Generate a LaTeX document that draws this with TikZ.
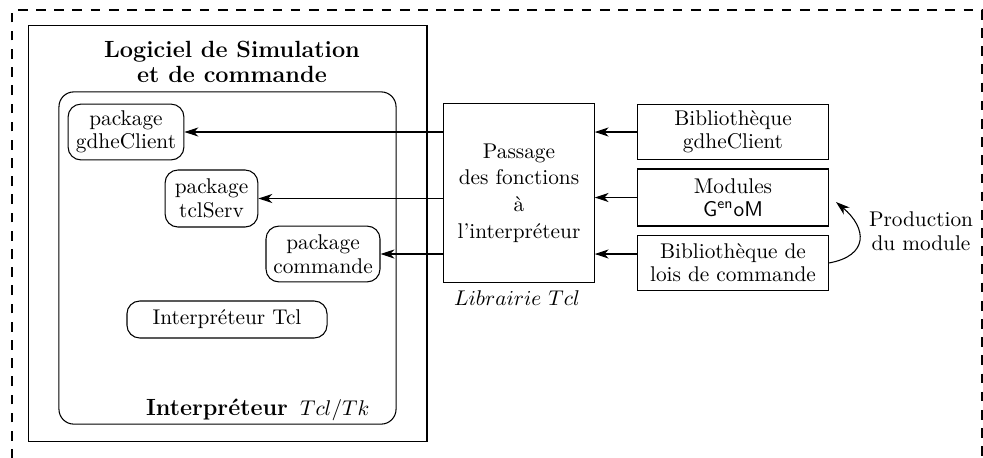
\documentclass[tikz,border=0pt]{standalone}
\usepackage{fontspec}
\usepackage{tikz}
\usetikzlibrary{arrows.meta}
\tikzset{
  pkgbox/.style={draw, rounded corners=6pt, inner sep=0pt, align=center,
    font=\fontsize{10}{11}\selectfont},
  libbox/.style={draw, inner sep=0pt, align=center, minimum width=3.14cm,
    minimum height=0.92cm, font=\fontsize{10}{10.8}\selectfont},
  flow/.style={line width=0.5pt, -{Stealth[length=2.3mm,width=1.5mm,inset=0.7mm]}}
}

\begin{document}
\begin{tikzpicture}[x=0.0165cm, y=0.0165cm, line width=0.5pt]
  \useasboundingbox (0,0) rectangle (983,457);
  % open frame round everything
  \draw[dash pattern=on 1.6mm off 1.4mm] (12,-20) -- (12,447) -- (982,447) -- (982,-20);

  % software block
  \node[draw, minimum width=6.58cm, minimum height=6.85cm] (logiciel) at (227.5,223.5) {};
  \node[align=center, font=\fontsize{11}{11.6}\selectfont\bfseries] (titre) at (232,395)
    {Logiciel de Simulation\\ et de commande};
  \node[draw, rounded corners=7pt, minimum width=5.56cm, minimum height=5.48cm] (interp) at (227.5,199) {};
  \node[anchor=base east] (interplabel) at (377,42)
    {{\fontsize{11}{13}\selectfont\bfseries Interpréteur}\hspace{2mm}$Tcl/Tk$};

  \node[pkgbox, minimum width=1.91cm, minimum height=0.92cm] (pkggdhe) at (126,325) {package\\ gdheClient};
  \node[pkgbox, minimum width=1.53cm, minimum height=0.94cm] (pkgserv) at (211.5,258.5) {package\\ tclServ};
  \node[pkgbox, minimum width=1.88cm, minimum height=0.92cm] (pkgcmd) at (323,203) {package\\ commande};
  \node[pkgbox, minimum width=3.30cm, minimum height=0.61cm] (tclinterp) at (227,137.5) {Interpréteur Tcl};

  % Tcl library
  \node[draw, inner sep=0pt, minimum width=2.48cm, minimum height=2.94cm, align=center,
    font=\fontsize{10}{12.5}\selectfont] (passage) at (519,264)
    {Passage\\ des fonctions\\ à\\ l'interpréteur};
  \node (librairie) at (517,159) {$Librairie\ Tcl$};

  % libraries feeding it
  \node[libbox] (gdhelib) at (733,325) {Bibliothèque\\ gdheClient};
  \node[libbox, minimum height=0.94cm] (modules) at (733,259.5) {Modules\\ \textsf{G\textsuperscript{en}oM}};
  \node[libbox] (lois) at (733,194) {Bibliothèque de\\ lois de commande};
  \node[align=center, font=\fontsize{10}{11.5}\selectfont] (production) at (921,226) {Production\\ du module};
  \coordinate (tip) at (836,255);

  \draw[flow] (gdhelib.west) -- (passage.east |- gdhelib.west);
  \draw[flow] (modules.west) -- (passage.east |- modules.west);
  \draw[flow] (lois.west |- pkgcmd) -- (passage.east |- pkgcmd);
  \draw[flow] (passage.west |- pkggdhe) -- (pkggdhe.east);
  \draw[flow] (passage.west |- pkgserv) -- (pkgserv.east);
  \draw[flow] (passage.west |- pkgcmd) -- (pkgcmd.east);
  \draw[flow] (lois.east) to[out=10, in=-40, looseness=1.7] (tip);
\end{tikzpicture}
\end{document}
